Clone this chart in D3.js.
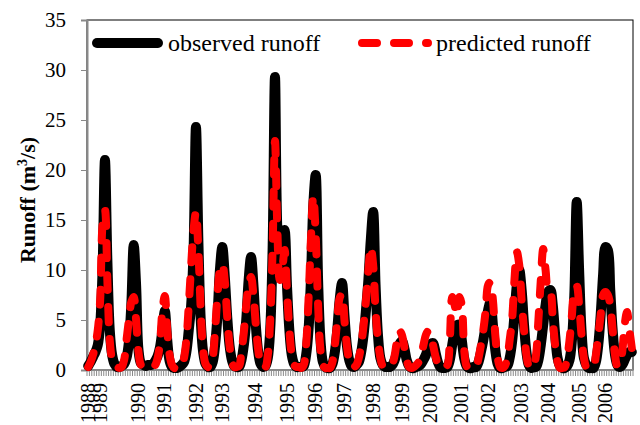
<!DOCTYPE html>
<html>
<head>
<meta charset="utf-8">
<script src="https://cdn.jsdelivr.net/npm/d3@7"></script>
<style>
  body { margin: 0; background: #fff; }
  svg text { font-family: "Liberation Serif", "Times New Roman", serif; fill: #000; }
</style>
</head>
<body>
<div class="chart"></div>
<script>
// monthly runoff, 228 months
const observed = [
  0.4, 0.8, 1.3, 1.8, 2.5, 4.5, 10.0, 21.0, 11.0, 4.0, 1.5, 0.6, 0.3,
  0.3, 0.4, 0.6, 1.2, 2.8, 6.5, 12.5, 8.5, 2.0, 0.7, 0.5, 0.4, 0.5,
  0.5, 0.6, 0.9, 1.4, 2.3, 4.0, 5.9, 3.0, 0.9, 0.3, 0.2, 0.2, 0.3,
  0.5, 0.8, 1.8, 4.0, 6.5, 12.0, 24.3, 13.0, 5.0, 1.8, 0.6, 0.3,
  0.3, 0.8, 2.5, 5.5, 10.0, 12.3, 9.5, 5.5, 2.5, 1.0, 0.4, 0.3,
  0.3, 1.0, 2.5, 5.0, 9.0, 11.3, 8.5, 4.5, 1.8, 0.6, 0.3,
  0.4, 1.2, 4.0, 12.0, 29.3, 14.0, 11.0, 12.5, 14.0, 8.5, 4.0, 1.5, 0.6, 0.3, 0.3,
  0.3, 0.4, 1.5, 4.0, 9.0, 16.5, 19.5, 9.0, 3.0, 0.8, 0.3, 0.2,
  0.2, 0.6, 1.8, 4.0, 7.0, 8.7, 5.5, 2.5, 1.0, 0.4, 0.3, 0.5,
  0.8, 1.8, 3.5, 6.0, 9.0, 13.0, 15.8, 8.5, 3.5, 1.2, 0.5, 0.3, 0.3,
  0.3, 0.5, 1.0, 1.8, 2.6, 2.9, 2.2, 1.0, 0.4, 0.2, 0.2, 0.3,
  0.4, 0.6, 1.0, 1.5, 2.2, 2.6, 2.7, 1.8, 0.8, 0.3, 0.2, 0.2,
  0.3, 1.0, 2.5, 3.8, 4.5, 4.5, 3.0, 1.2, 0.4, 0.2, 0.2, 0.3,
  0.3, 0.8, 1.8, 3.0, 4.5, 6.0, 6.8, 4.5, 2.0, 0.6, 0.2, 0.2, 0.3,
  0.4, 1.2, 2.8, 5.5, 8.5, 10.0, 8.0, 4.5, 1.8, 0.5, 0.2, 0.3,
  0.3, 1.0, 2.5, 4.5, 6.5, 7.8, 8.0, 6.5, 3.5, 1.2, 0.4, 0.2,
  0.2, 0.4, 1.0, 3.0, 7.5, 16.8, 10.0, 4.0, 1.2, 0.5, 0.2, 0.2,
  0.2, 0.8, 2.5, 5.5, 9.5, 12.3, 12.0, 8.0, 4.0, 1.5, 0.5, 0.3, 0.5, 1.0, 1.5, 1.8, 1.8
];
const predicted = [
  0.3, 0.8, 1.5, 2.5, 4.0, 7.0, 14.5, 16.0, 9.0, 3.0, 1.0, 0.4, 0.3,
  0.2, 0.3, 1.0, 3.0, 5.0, 6.8, 7.3, 5.0, 1.8, 0.5, 0.3, 0.2, 0.3,
  0.3, 0.3, 0.5, 1.2, 2.8, 6.0, 7.4, 4.0, 1.5, 0.5, 0.2, 0.2, 0.3,
  0.3, 1.2, 3.0, 6.5, 10.5, 14.0, 15.8, 12.0, 6.0, 2.0, 0.6, 0.3,
  0.3, 1.2, 4.0, 7.5, 10.0, 10.6, 9.0, 5.5, 2.5, 0.8, 0.3, 0.3,
  0.4, 1.8, 3.8, 6.5, 8.5, 9.3, 7.5, 4.5, 2.0, 0.6, 0.3,
  0.3, 1.5, 5.0, 12.0, 22.9, 14.0, 9.0, 10.0, 12.0, 8.0, 4.0, 1.5, 0.5, 0.3, 0.3,
  0.2, 0.5, 2.5, 7.0, 13.0, 17.4, 13.5, 6.5, 2.0, 0.5, 0.2, 0.2,
  0.2, 0.8, 2.5, 5.0, 7.2, 7.6, 5.0, 2.5, 0.9, 0.3, 0.3, 0.5,
  1.2, 2.5, 4.5, 7.0, 10.0, 12.3, 10.5, 6.0, 3.0, 1.2, 0.4, 0.3, 0.3,
  0.3, 0.6, 1.5, 3.0, 3.9, 3.5, 2.3, 1.0, 0.3, 0.2, 0.3, 0.5,
  0.8, 1.5, 2.5, 3.5, 3.9, 3.5, 2.5, 1.4, 0.6, 0.2, 0.2, 0.3,
  0.5, 3.0, 7.3, 6.5, 5.5, 7.3, 6.5, 2.0, 0.4, 0.2, 0.3, 0.5,
  0.4, 1.2, 2.5, 4.0, 6.0, 8.5, 8.8, 7.0, 3.5, 1.2, 0.3, 0.2, 0.4,
  1.2, 3.0, 5.0, 9.0, 11.8, 10.5, 7.0, 4.0, 1.5, 0.4, 0.2, 0.4,
  1.5, 5.0, 9.0, 12.1, 10.0, 8.0, 7.8, 5.0, 2.5, 0.8, 0.2, 0.2,
  0.3, 1.2, 3.0, 5.5, 8.0, 8.4, 6.5, 3.5, 1.2, 0.3, 0.2, 0.3,
  0.3, 1.5, 3.5, 5.5, 7.5, 7.8, 7.5, 6.5, 4.0, 1.5, 0.4, 0.5, 1.8, 4.5, 5.8, 4.0, 2.2
];
// year labels and the month index each one sits on
const yearLabels = ["1988", "1989", "1990", "1991", "1992", "1993", "1994", "1995", "1996", "1997",
  "1998", "1999", "2000", "2001", "2002", "2003", "2004", "2005", "2006"];
const yearLabelAt = [0, 5, 21, 32, 45, 56, 70, 83, 95, 107, 119, 131, 143, 156, 167, 181, 192, 205, 216];
const yTicks = [0, 5, 10, 15, 20, 25, 30, 35];
const seriesNames = ["observed runoff", "predicted runoff"];

const W = 640, H = 425;
const m = { left: 87, right: 633, top: 20, bottom: 370 };
const axisGray = "#898989";
const font = "'Liberation Serif', 'Times New Roman', serif";

const svg = d3.select(".chart").append("svg")
  .attr("width", W)
  .attr("height", H)
  .attr("font-family", font);

const months = d3.range(observed.length);
const x = d3.scaleBand().domain(months).range([m.left, m.right]);
const cx = i => x(i) + x.bandwidth() / 2;
const y = d3.scaleLinear().domain([0, 35]).range([m.bottom, m.top]);

// plot frame
svg.append("rect")
  .attr("x", m.left).attr("y", m.top)
  .attr("width", m.right - m.left).attr("height", m.bottom - m.top)
  .attr("fill", "none").attr("stroke", "#000").attr("stroke-width", 1);

// y axis
const yAxis = svg.append("g")
  .attr("transform", `translate(${m.left},0)`)
  .call(d3.axisLeft(y).tickValues(yTicks).tickSize(6).tickPadding(15));
yAxis.attr("font-family", font);
yAxis.select(".domain").attr("stroke", axisGray).attr("stroke-width", 2);
yAxis.selectAll(".tick line").attr("stroke", axisGray);
yAxis.selectAll("text")
  .style("font-size", "21px")
  .attr("fill", "#000");

// month ticks along the bottom
svg.append("g")
  .selectAll("line")
  .data(months.concat([observed.length]))
  .join("line")
  .attr("x1", i => i < observed.length ? x(i) : m.right)
  .attr("x2", i => i < observed.length ? x(i) : m.right)
  .attr("y1", m.bottom)
  .attr("y2", m.bottom + 6)
  .attr("stroke", axisGray)
  .attr("stroke-width", 1);
svg.append("line")
  .attr("x1", m.left).attr("x2", m.right)
  .attr("y1", m.bottom).attr("y2", m.bottom)
  .attr("stroke", axisGray).attr("stroke-width", 2);

// year labels, rotated
svg.append("g")
  .selectAll("text")
  .data(yearLabels)
  .join("text")
  .attr("transform", (d, i) => `translate(${cx(yearLabelAt[i])},${m.bottom + 13}) rotate(-90)`)
  .attr("text-anchor", "end")
  .attr("dy", "0.33em")
  .style("font-size", "20px")
  .text(d => d);

// y title
svg.append("text")
  .attr("transform", `translate(35,${(m.top + m.bottom) / 2 + 5}) rotate(-90)`)
  .attr("text-anchor", "middle")
  .style("font-size", "22px")
  .style("font-weight", "bold")
  .html("Runoff (m<tspan dy='-8' font-size='14px'>3</tspan><tspan dy='8'>/s)</tspan>");

const line = d3.line()
  .x((d, i) => cx(i))
  .y(d => y(d))
  .curve(d3.curveCatmullRom);

svg.append("path")
  .datum(observed)
  .attr("d", line)
  .attr("fill", "none")
  .attr("stroke", "#000")
  .attr("stroke-width", 10)
  .attr("stroke-linejoin", "round")
  .attr("stroke-linecap", "round");

svg.append("path")
  .datum(predicted)
  .attr("d", line)
  .attr("fill", "none")
  .attr("stroke", "#ff0000")
  .attr("stroke-width", 8)
  .attr("stroke-dasharray", "15,17")
  .attr("stroke-linejoin", "round")
  .attr("stroke-linecap", "round");

// legend
const legend = [
  { name: seriesNames[0], x1: 97, x2: 158, tx: 168, color: "#000", w: 10, dash: null },
  { name: seriesNames[1], x1: 362, x2: 428, tx: 436, color: "#ff0000", w: 8, dash: "15,17" }
];
const lg = svg.append("g").selectAll("g").data(legend).join("g");
lg.append("line")
  .attr("x1", d => d.x1).attr("x2", d => d.x2)
  .attr("y1", 43).attr("y2", 43)
  .attr("stroke", d => d.color)
  .attr("stroke-width", d => d.w)
  .attr("stroke-linecap", "round")
  .attr("stroke-dasharray", d => d.dash);
lg.append("text")
  .attr("x", d => d.tx)
  .attr("y", 51)
  .style("font-size", "24px")
  .text(d => d.name);
</script>
</body>
</html>
